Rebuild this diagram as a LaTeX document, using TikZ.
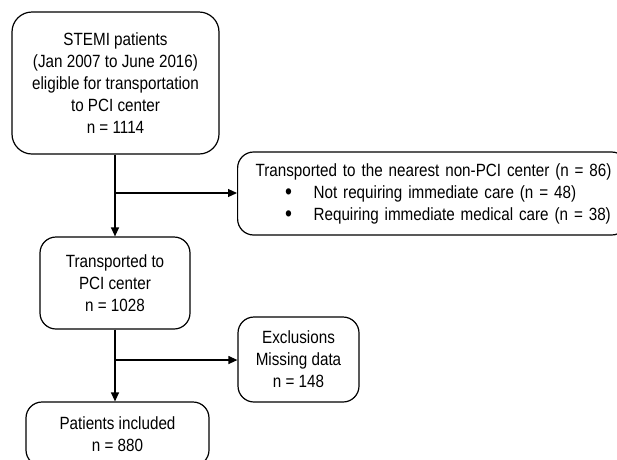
\documentclass[tikz,border=0pt]{standalone}
\usepackage{fontspec}
\usepackage{graphicx}
\setmainfont[FakeStretch=0.86]{Liberation Sans}
\usetikzlibrary{arrows.meta}
\newcommand{\bigbul}{\raisebox{-0.1em}{\scalebox{1.3}{\textbullet}}}
\begin{document}
\begin{tikzpicture}[x=1pt,y=-1pt,
  box/.style={draw, line width=1.2pt, align=center, inner sep=0pt,
    font=\fontsize{17.7pt}{22pt}\selectfont},
  arr/.style={line width=1.2pt, -{Triangle[length=9pt,width=8pt]}}]
\useasboundingbox (0,0) rectangle (617,459);
\clip (0,0) rectangle (617,459);
\fill[white] (0,0) rectangle (617,459);
\node[box, rounded corners=20pt, minimum width=207pt, minimum height=142pt] (b1) at (115.5,83)
  {STEMI patients\\(Jan 2007 to June 2016)\\eligible for transportation\\to PCI center\\n = 1114};
\node[box, rounded corners=16pt, minimum width=390pt, minimum height=83pt, align=left,
  text width=390pt, inner xsep=0pt, anchor=west] (b2) at (237,193.5)
  {\hspace*{18pt}Transported to the nearest non-PCI center (n = 86)\\
   \hspace*{47.5pt}\makebox[28.5pt][l]{\bigbul}Not requiring immediate care (n = 48)\\
   \hspace*{47.5pt}\makebox[28.5pt][l]{\bigbul}Requiring immediate medical care (n = 38)};
\node[box, rounded corners=16pt, minimum width=150pt, minimum height=92pt] (b3) at (115,283)
  {Transported to\\PCI center\\n = 1028};
\node[box, rounded corners=16pt, minimum width=121pt, minimum height=85pt] (b4) at (298.5,359.5)
  {Exclusions\\Missing data\\n = 148};
\node[box, rounded corners=16pt, minimum width=183pt, minimum height=64pt] (b5) at (117.5,434)
  {Patients included\\n = 880};
\coordinate (j1) at (115,193);
\coordinate (j2) at (115,360);
\draw[arr] (b1.south -| j1) -- (b3.north -| j1);
\draw[arr] (j1) -- (j1 -| b2.west);
\draw[arr] (b3.south -| j2) -- (b5.north -| j2);
\draw[arr] (j2) -- (j2 -| b4.west);
\end{tikzpicture}
\end{document}
